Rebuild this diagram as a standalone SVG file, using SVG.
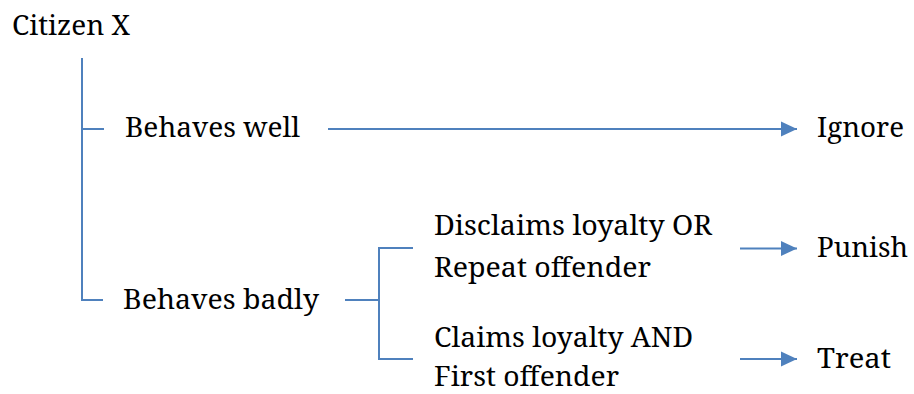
<svg xmlns="http://www.w3.org/2000/svg" width="914" height="394" viewBox="0 0 914 394">
<defs>
<marker id="ah" markerUnits="userSpaceOnUse" markerWidth="16" markerHeight="16" viewBox="0 0 16 16" refX="16" refY="8" orient="auto">
<path d="M0,0.5 L16,8 L0,15.5 Z" fill="#4F81BD"/>
</marker>
</defs>
<rect width="914" height="394" fill="#fff"/>
<g id="connectors" stroke="#4F81BD" stroke-width="2" fill="none">
<path d="M82,58 V300 H103 M82,129 H104"/>
<path d="M345,300 H379 M413,248 H379 V359 H413"/>
<path d="M328,129 H797" marker-end="url(#ah)"/>
<path d="M740,248.5 H797" marker-end="url(#ah)"/>
<path d="M740,359 H797" marker-end="url(#ah)"/>
</g>
<g font-family="Noto Serif" font-size="28" fill="#000">
<g id="citizen"><text x="12" y="35" textLength="118" lengthAdjust="spacingAndGlyphs">Citizen X</text></g>
<g id="well"><text x="125" y="137" textLength="175" lengthAdjust="spacingAndGlyphs">Behaves well</text></g>
<g id="badly"><text x="123" y="309" textLength="196" lengthAdjust="spacingAndGlyphs">Behaves badly</text></g>
<g id="disclaims"><text x="434" y="235" textLength="278" lengthAdjust="spacingAndGlyphs">Disclaims loyalty OR</text><text x="434" y="277" textLength="217" lengthAdjust="spacingAndGlyphs">Repeat offender</text></g>
<g id="claims"><text x="434" y="347" textLength="259" lengthAdjust="spacingAndGlyphs">Claims loyalty AND</text><text x="434" y="386" textLength="185" lengthAdjust="spacingAndGlyphs">First offender</text></g>
<g id="ignore"><text x="817" y="137" textLength="87" lengthAdjust="spacingAndGlyphs">Ignore</text></g>
<g id="punish"><text x="817" y="257" textLength="91" lengthAdjust="spacingAndGlyphs">Punish</text></g>
<g id="treat"><text x="817" y="368" textLength="74" lengthAdjust="spacingAndGlyphs">Treat</text></g>
</g>
</svg>
